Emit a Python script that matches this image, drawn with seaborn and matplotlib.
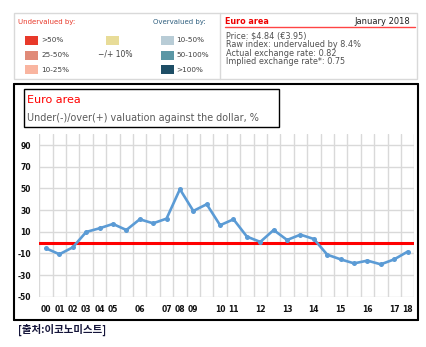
import matplotlib
matplotlib.use("Agg")
import matplotlib.pyplot as plt
from matplotlib.patches import Rectangle
from matplotlib.lines import Line2D
import seaborn as sns
import pandas as pd
import numpy as np

# Big Mac index, euro area vs. US dollar (% under/over valuation)
valuation = [-5.3, -10.8, -4.4, 9.8, 13.2, 17.2, 11.6, 21.5, 17.8, 22.1,
             49.3, 29.2, 35.4, 16.0, 21.5, 5.5, 0.6, 11.6, 2.4, 7.3,
             3.3, -11.2, -15.5, -19.2, -16.7, -20.1, -15.5, -8.4]
year_tick_pos = [0, 1, 2, 3, 4, 5, 7, 9, 10, 11, 13, 14, 16, 18, 20, 22, 24, 26, 27]
year_tick_labels = ["00", "01", "02", "03", "04", "05", "06", "07", "08", "09",
                    "10", "11", "12", "13", "14", "15", "16", "17", "18"]
y_ticks = [-50, -30, -10, 10, 30, 50, 70, 90]

under_labels = [">50%", "25-50%", "10-25%"]
under_colors = ["#e8392a", "#e08a78", "#f9b5a0"]
over_labels = ["10-50%", "50-100%", ">100%"]
over_colors = ["#b8ccd6", "#5b97a5", "#1e4e66"]
neutral_label = "\u2212/+ 10%"
neutral_color = "#e8dc98"

info_lines = ["Price: $4.84 (\u20ac3.95)",
              "Raw index: undervalued by 8.4%",
              "Actual exchange rate: 0.82",
              "Implied exchange rate*: 0.75"]

W, H = 427, 347
sns.set_theme(style="white")
plt.rcParams["font.family"] = ["DejaVu Sans", "Noto Sans CJK KR"]

fig = plt.figure(figsize=(W / 100, H / 100), dpi=100)


def fx(px):
    return px / W


def fy(py):
    return 1 - py / H


def frect(x0, y0, x1, y1, **kw):
    fig.patches.append(Rectangle((fx(x0), fy(y1)), fx(x1) - fx(x0), fy(y0) - fy(y1),
                                 transform=fig.transFigure, **kw))


def fline(x0, y0, x1, y1, **kw):
    fig.lines.append(Line2D([fx(x0), fx(x1)], [fy(y0), fy(y1)],
                            transform=fig.transFigure, **kw))


# ---- legend / info panel ----
frect(14, 13, 417, 79, fill=False, edgecolor="#d9d9d9", lw=1)
fline(220, 13, 220, 79, color="#d9d9d9", lw=1)

fig.text(fx(18), fy(22), "Undervalued by:", color="#e8392a", fontsize=5, va="center")
fig.text(fx(153), fy(22), "Overvalued by:", color="#2f5f7f", fontsize=5, va="center")
for i, (lab, col) in enumerate(zip(under_labels, under_colors)):
    yc = 40.5 + i * 14.5
    frect(25, yc - 4.5, 38, yc + 4.5, facecolor=col, edgecolor="none")
    fig.text(fx(41), fy(yc), lab, fontsize=5.2, color="#404040", va="center")
for i, (lab, col) in enumerate(zip(over_labels, over_colors)):
    yc = 40.5 + i * 14.5
    frect(161, yc - 4.5, 174, yc + 4.5, facecolor=col, edgecolor="none")
    fig.text(fx(176), fy(yc), lab, fontsize=5.2, color="#404040", va="center")
frect(106, 36, 119, 45, facecolor=neutral_color, edgecolor="none")
fig.text(fx(115.5), fy(54), neutral_label, fontsize=5.5, color="#404040",
         va="center", ha="center")

fig.text(fx(225), fy(21), "Euro area", color="#ee0000", fontsize=5.8,
         fontweight="bold", va="center")
fig.text(fx(410), fy(21), "January 2018", color="#222222", fontsize=6,
         va="center", ha="right")
fline(225, 27, 415, 27, color="#ff4444", lw=1)
for i, line in enumerate(info_lines):
    fig.text(fx(226), fy(35.5 + i * 8.8), line, fontsize=5.9, color="#505050",
             va="center")

# ---- chart frame ----
fline(14, 84, 418, 84, color="black", lw=1.5)
fline(14, 84, 14, 320, color="black", lw=1.5)
fline(418, 84, 418, 320, color="black", lw=1.5)
fline(14, 320, 418, 320, color="black", lw=1.5)

frect(24, 89, 279, 127, fill=False, edgecolor="black", lw=1)
fig.text(fx(27), fy(100), "Euro area", color="#ff0000", fontsize=8, va="center")
fig.text(fx(27), fy(118), "Under(-)/over(+) valuation against the dollar, %",
         color="#595959", fontsize=6.9, va="center")

# ---- line chart ----
ax = fig.add_axes([fx(39.3), fy(296.7), fx(414.3) - fx(39.3), fy(134.3) - fy(296.7)])
df = pd.DataFrame({"idx": np.arange(len(valuation)), "val": valuation})

ax.set_xlim(-0.5, len(valuation) - 0.5)
ax.set_ylim(-50, 100)
ax.set_xticks(np.arange(-0.5, len(valuation)), minor=True)
ax.set_xticks(year_tick_pos)
ax.set_xticklabels(year_tick_labels)
ax.set_yticks(y_ticks)
ax.set_yticklabels([str(v) for v in y_ticks])
ax.grid(False)
ax.grid(True, which="minor", axis="x", color="#d9d9d9", lw=1)
ax.grid(True, which="major", axis="y", color="#d9d9d9", lw=1)
ax.set_axisbelow(True)
for s in ax.spines.values():
    s.set_visible(False)
ax.tick_params(which="both", length=0)
ax.tick_params(axis="x", pad=6, labelsize=5.5)
ax.tick_params(axis="y", pad=6, labelsize=5.5)
for t in ax.get_xticklabels() + ax.get_yticklabels():
    t.set_fontweight("bold")
    t.set_color("#111111")

ax.axhline(0, color="#ff0000", lw=2.2, zorder=2)
sns.lineplot(data=df, x="idx", y="val", ax=ax, color="#5b9bd5", lw=1.9,
             marker="o", markersize=3.6, markeredgewidth=0, zorder=3)
ax.set_xlabel("")
ax.set_ylabel("")

fig.text(fx(18), fy(330), "[출처:이코노미스트]", color="#15153a", fontsize=7.5,
         fontweight="bold", va="center", family=["Noto Sans CJK KR", "DejaVu Sans"])

fig.savefig("out.png", dpi=100)
